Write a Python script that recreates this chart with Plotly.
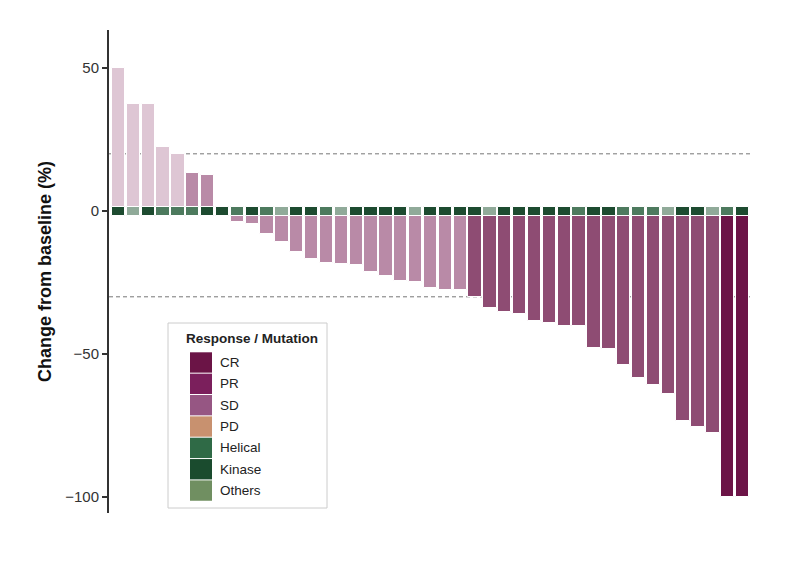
import plotly.graph_objects as go

# ---------------- data ----------------
patients = list(range(43))
change = [50, 37.5, 37.5, 22.5, 20, 13.3, 12.6, 0, -3.7, -4.4, -8, -11, -14.2, -16.8,
          -18.3, -18.5, -18.9, -21.2, -22.6, -24.5, -24.9, -26.8, -27.6, -27.6,
          -30.2, -34, -35.2, -35.9, -38.5, -39.3, -40.1, -40.1, -47.9, -48.3,
          -53.8, -58.3, -61, -64.1, -73.4, -75.6, -77.6, -100, -100]
response = ["PD"] * 5 + ["SD"] * 19 + ["PR"] * 17 + ["CR"] * 2
mutation = ["Kinase", "Others", "Kinase", "Helical", "Helical", "Helical", "Kinase", "Kinase",
            "Helical", "Kinase", "Helical", "Others", "Kinase", "Kinase", "Helical", "Others",
            "Kinase", "Kinase", "Kinase", "Kinase", "Others", "Kinase", "Kinase", "Kinase",
            "Kinase", "Others", "Kinase", "Kinase", "Kinase", "Kinase", "Kinase", "Helical",
            "Kinase", "Kinase", "Helical", "Helical", "Helical", "Others", "Kinase", "Kinase",
            "Others", "Helical", "Kinase"]
thresholds = [20, -30]
y_ticks = [50, 0, -50, -100]
legend_labels = ["CR", "PR", "SD", "PD", "Helical", "Kinase", "Others"]
legend_title = "Response / Mutation"

# ---------------- styles ----------------
bar_color = {"PD": "#dec6d4", "SD": "#b98aa7", "PR": "#8e4c73", "CR": "#6c1447"}
strip_color = {"Kinase": "#1d4b30", "Helical": "#4d7a5e", "Others": "#90aa99"}
legend_color = {"CR": "#6b1446", "PR": "#7b1f5c", "SD": "#965683", "PD": "#c8916f",
                "Helical": "#2f6a46", "Kinase": "#1a4b2e", "Others": "#708f61"}
FONT = "Liberation Sans, Arial, sans-serif"
W, H = 800, 580
L, R, T, B = 109, 49, 30, 67
PW, PH = W - L - R, H - T - B

fig = go.Figure()
fig.add_trace(go.Bar(
    x=patients, y=change,
    marker=dict(color=[bar_color[r] for r in response], line=dict(color="#ffffff", width=1)),
    width=0.9, showlegend=False, hoverinfo="skip"))
fig.add_trace(go.Bar(
    x=patients, y=[3.15] * len(patients), base=[-1.75] * len(patients),
    marker=dict(color=[strip_color[m] for m in mutation], line=dict(color="#ffffff", width=1)),
    width=0.9, showlegend=False, hoverinfo="skip"))

for t in thresholds:
    fig.add_hline(y=t, line=dict(color="#777777", width=1, dash="4px,3px"), layer="below")

# ------------- custom legend -------------
def px_x(px):
    return (px - L) / PW

def px_y(py):
    return (H - B - py) / PH

shapes = [dict(type="rect", xref="paper", yref="paper",
               x0=px_x(168), x1=px_x(327), y0=px_y(508), y1=px_y(323),
               line=dict(color="#cccccc", width=1), fillcolor="white", layer="above")]
annotations = [dict(text="<b>" + legend_title + "</b>", xref="paper", yref="paper",
                    x=px_x(184), y=px_y(338), xanchor="left", yanchor="middle",
                    showarrow=False, font=dict(family=FONT, size=13.5, color="#222222"))]
pitch = 21.35
for i, lab in enumerate(legend_labels):
    top = 352.3 + i * pitch
    shapes.append(dict(type="rect", xref="paper", yref="paper",
                       x0=px_x(190), x1=px_x(212), y0=px_y(top + pitch - 1), y1=px_y(top),
                       line=dict(width=0), fillcolor=legend_color[lab], layer="above"))
    annotations.append(dict(text=lab, xref="paper", yref="paper",
                            x=px_x(218), y=px_y(top + pitch / 2 - 0.5), xanchor="left",
                            yanchor="middle", showarrow=False,
                            font=dict(family=FONT, size=13.5, color="#222222")))

fig.update_layout(
    width=W, height=H,
    margin=dict(l=L, r=R, t=T, b=B, autoexpand=False),
    paper_bgcolor="white", plot_bgcolor="white",
    barmode="overlay", bargap=0,
    font=dict(family=FONT, color="#333333"),
    shapes=list(fig.layout.shapes) + shapes,
    annotations=annotations,
    xaxis=dict(range=[-0.64, 42.57], showticklabels=False, showgrid=False, zeroline=False,
               showline=False, ticks=""),
    yaxis=dict(range=[-105.6, 63.3], tickvals=y_ticks, showgrid=False, zeroline=False,
               showline=True, linecolor="#333333", linewidth=2, ticks="outside", ticklen=5,
               tickwidth=1.5, tickcolor="#333333", tickfont=dict(size=15, color="#333333"),
               title=dict(text="<b>Change from baseline (%)</b>", standoff=9,
                          font=dict(size=18, color="#111111"))),
)

fig.write_html("out.html")
